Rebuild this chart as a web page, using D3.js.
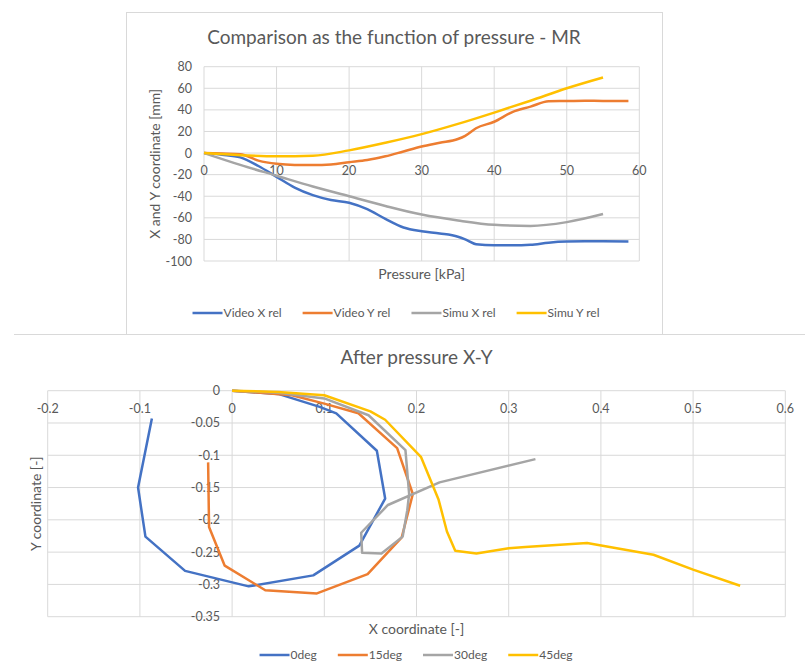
<!DOCTYPE html>
<html>
<head>
<meta charset="utf-8">
<script src="https://d3js.org/d3.v7.min.js"></script>
<style>
  body { margin: 0; background: #fff; }
  svg text { font-family: Lato, "Noto Sans", sans-serif; fill: #595959; }
</style>
</head>
<body>
<div id="chart"></div>
<script>
// ---- top chart data (pressure in kPa, coordinates in mm)
var videoP = [0, 2.5, 5, 7.5, 10, 12.5, 15, 17.5, 20, 22.5, 25, 27.5, 30, 32.5, 35, 36, 37.5, 40, 42.5, 45, 47.5, 50, 52.5, 55, 58.5];
var videoX = [0, -1.5, -4, -12, -22, -32, -39, -43.5, -46, -52, -61, -69, -72.5, -74.5, -77.5, -80, -84.5, -85.5, -85.5, -85, -83, -82, -81.8, -81.8, -82];
var videoY = [0, -0.5, -1, -7, -10, -11, -11, -10.5, -8.5, -6.5, -3, 1.5, 6, 9.5, 13, 16, 23, 29, 38, 43, 48, 48.2, 48.5, 48.3, 48.3];
var simuP = [0, 5, 10, 15, 20, 25, 30, 35, 40, 45, 50, 55];
var simuX = [0, -11, -21, -31, -40, -49, -57, -62.5, -66.5, -67.5, -64, -56.5];
var simuY = [0, -2, -3, -2.5, 2.5, 9.5, 17.5, 27, 37.5, 48.5, 60, 70];
var topNames = ["Video X rel", "Video Y rel", "Simu X rel", "Simu Y rel"];
var topXTicks = [0, 10, 20, 30, 40, 50, 60];
var topYTicks = [-100, -80, -60, -40, -20, 0, 20, 40, 60, 80];

// ---- bottom chart data (X-Y path for each angle)
var deg0X = [0, 0.05, 0.095, 0.113, 0.157, 0.166, 0.138, 0.088, 0.018, -0.051, -0.094, -0.102, -0.087];
var deg0Y = [0, -0.005, -0.025, -0.035, -0.093, -0.167, -0.24, -0.286, -0.303, -0.279, -0.226, -0.15, -0.043];
var deg15X = [0, 0.065, 0.1, 0.137, 0.179, 0.196, 0.184, 0.147, 0.092, 0.036, -0.008, -0.025, -0.026];
var deg15Y = [0, -0.007, -0.02, -0.035, -0.089, -0.16, -0.227, -0.284, -0.314, -0.309, -0.271, -0.211, -0.111];
var deg30X = [0, 0.05, 0.1, 0.148, 0.188, 0.192, 0.19, 0.185, 0.162, 0.141, 0.14, 0.169, 0.225, 0.329];
var deg30Y = [0, -0.003, -0.012, -0.038, -0.092, -0.16, -0.185, -0.226, -0.252, -0.251, -0.22, -0.177, -0.142, -0.106];
var deg45X = [0, 0.05, 0.1, 0.15, 0.166, 0.205, 0.224, 0.233, 0.242, 0.265, 0.3, 0.318, 0.385, 0.457, 0.5, 0.551];
var deg45Y = [0, -0.002, -0.007, -0.032, -0.045, -0.103, -0.169, -0.218, -0.248, -0.252, -0.244, -0.242, -0.236, -0.254, -0.277, -0.302];
var botNames = ["0deg", "15deg", "30deg", "45deg"];
var botXTicks = [-0.2, -0.1, 0, 0.1, 0.2, 0.3, 0.4, 0.5, 0.6];
var botYTicks = [-0.35, -0.3, -0.25, -0.2, -0.15, -0.1, -0.05, 0];

var colors = ["#4472C4", "#ED7D31", "#A5A5A5", "#FFC000"];
var gridColor = "#d9d9d9";

var svg = d3.select("#chart").append("svg")
    .attr("width", 805)
    .attr("height", 671);

function zip(xs, ys) {
    return xs.map(function (x, i) { return [x, ys[i]]; });
}

function drawLegend(names, cx, y) {
    var g = svg.append("g");
    var items = g.selectAll("g.item")
        .data(names)
        .enter()
        .append("g")
        .attr("class", "item");
    items.append("line")
        .attr("x1", 0).attr("x2", 30)
        .attr("y1", -4).attr("y2", -4)
        .style("stroke", function (d, i) { return colors[i]; })
        .style("stroke-width", 2.5);
    items.append("text")
        .attr("x", 31)
        .attr("y", 0)
        .style("font-size", "12px")
        .text(function (d) { return d; });
    // lay the items out side by side and center them
    var xpos = 0;
    items.each(function () {
        var w = 31 + d3.select(this).select("text").node().getComputedTextLength();
        d3.select(this).attr("transform", "translate(" + xpos + ",0)");
        xpos += w + 21;
    });
    var total = xpos - 21;
    g.attr("transform", "translate(" + (cx - total / 2) + "," + y + ")");
}

// ================= top chart =================
svg.append("rect")
    .attr("x", 126.5).attr("y", 12.5)
    .attr("width", 536).attr("height", 322)
    .style("fill", "none")
    .style("stroke", gridColor);

var x1 = d3.scaleLinear().domain([0, 60]).range([204, 639.3]);
var y1 = d3.scaleLinear().domain([-100, 80]).range([261, 66.7]);

var gTop = svg.append("g");

gTop.selectAll("line.vg")
    .data(topXTicks)
    .enter()
    .append("line")
    .attr("x1", function (d) { return x1(d); })
    .attr("x2", function (d) { return x1(d); })
    .attr("y1", y1(80)).attr("y2", y1(-100))
    .style("stroke", gridColor);

gTop.selectAll("line.hg")
    .data(topYTicks)
    .enter()
    .append("line")
    .attr("y1", function (d) { return y1(d); })
    .attr("y2", function (d) { return y1(d); })
    .attr("x1", x1(0)).attr("x2", x1(60))
    .style("stroke", gridColor);

gTop.selectAll("text.yt")
    .data(topYTicks)
    .enter()
    .append("text")
    .attr("x", 192)
    .attr("y", function (d) { return y1(d) + 4.5; })
    .attr("text-anchor", "end")
    .style("font-size", "12.5px")
    .text(function (d) { return d; });

// x tick labels sit just under the zero line
gTop.selectAll("text.xt")
    .data(topXTicks)
    .enter()
    .append("text")
    .attr("x", function (d) { return x1(d); })
    .attr("y", y1(0) + 22)
    .attr("text-anchor", "middle")
    .style("font-size", "12.5px")
    .text(function (d) { return d; });

var lineTop = d3.line()
    .x(function (d) { return x1(d[0]); })
    .y(function (d) { return y1(d[1]); })
    .curve(d3.curveMonotoneX);

var topSeries = [zip(videoP, videoX), zip(videoP, videoY), zip(simuP, simuX), zip(simuP, simuY)];

gTop.selectAll("path.s")
    .data(topSeries)
    .enter()
    .append("path")
    .attr("d", lineTop)
    .style("fill", "none")
    .style("stroke", function (d, i) { return colors[i]; })
    .style("stroke-width", 2.5)
    .style("stroke-linejoin", "round");

gTop.append("text")
    .attr("x", 394)
    .attr("y", 44)
    .attr("text-anchor", "middle")
    .style("font-size", "19px")
    .text("Comparison as the function of pressure - MR");

gTop.append("text")
    .attr("transform", "translate(160," + (y1(-100) + y1(80)) / 2 + ") rotate(-90)")
    .attr("text-anchor", "middle")
    .style("font-size", "14px")
    .text("X and Y coordinate [mm]");

gTop.append("text")
    .attr("x", (x1(0) + x1(60)) / 2)
    .attr("y", 279)
    .attr("text-anchor", "middle")
    .style("font-size", "14px")
    .text("Pressure [kPa]");

drawLegend(topNames, 396, 317);

// separator under top chart
svg.append("line")
    .attr("x1", 14).attr("x2", 805)
    .attr("y1", 334.5).attr("y2", 334.5)
    .style("stroke", gridColor);

// ================= bottom chart =================
var x2 = d3.scaleLinear().domain([-0.2, 0.6]).range([47.7, 785.3]);
var y2 = d3.scaleLinear().domain([-0.35, 0]).range([616.7, 390.7]);

var gBot = svg.append("g");

gBot.selectAll("line.vg")
    .data(botXTicks)
    .enter()
    .append("line")
    .attr("x1", function (d) { return x2(d); })
    .attr("x2", function (d) { return x2(d); })
    .attr("y1", y2(0)).attr("y2", y2(-0.35))
    .style("stroke", gridColor);

gBot.selectAll("line.hg")
    .data(botYTicks)
    .enter()
    .append("line")
    .attr("y1", function (d) { return y2(d); })
    .attr("y2", function (d) { return y2(d); })
    .attr("x1", x2(-0.2)).attr("x2", x2(0.6))
    .style("stroke", gridColor);

gBot.selectAll("text.xt")
    .data(botXTicks)
    .enter()
    .append("text")
    .attr("x", function (d) { return x2(d); })
    .attr("y", y2(0) + 22)
    .attr("text-anchor", "middle")
    .style("font-size", "12.5px")
    .text(function (d) { return +d.toFixed(2); });

gBot.selectAll("text.yt")
    .data(botYTicks)
    .enter()
    .append("text")
    .attr("x", x2(0) - 12)
    .attr("y", function (d) { return y2(d) + 4.5; })
    .attr("text-anchor", "end")
    .style("font-size", "12.5px")
    .text(function (d) { return +d.toFixed(2); });

var lineBot = d3.line()
    .x(function (d) { return x2(d[0]); })
    .y(function (d) { return y2(d[1]); });

var botSeries = [zip(deg0X, deg0Y), zip(deg15X, deg15Y), zip(deg30X, deg30Y), zip(deg45X, deg45Y)];

gBot.selectAll("path.s")
    .data(botSeries)
    .enter()
    .append("path")
    .attr("d", lineBot)
    .style("fill", "none")
    .style("stroke", function (d, i) { return colors[i]; })
    .style("stroke-width", 2.5)
    .style("stroke-linejoin", "round");

gBot.append("text")
    .attr("x", (x2(-0.2) + x2(0.6)) / 2)
    .attr("y", 364)
    .attr("text-anchor", "middle")
    .style("font-size", "19px")
    .text("After pressure X-Y");

gBot.append("text")
    .attr("transform", "translate(41," + (y2(-0.35) + y2(0)) / 2 + ") rotate(-90)")
    .attr("text-anchor", "middle")
    .style("font-size", "14px")
    .text("Y coordinate [-]");

gBot.append("text")
    .attr("x", (x2(-0.2) + x2(0.6)) / 2)
    .attr("y", 634)
    .attr("text-anchor", "middle")
    .style("font-size", "14px")
    .text("X coordinate [-]");

drawLegend(botNames, 416, 659);
</script>
</body>
</html>
